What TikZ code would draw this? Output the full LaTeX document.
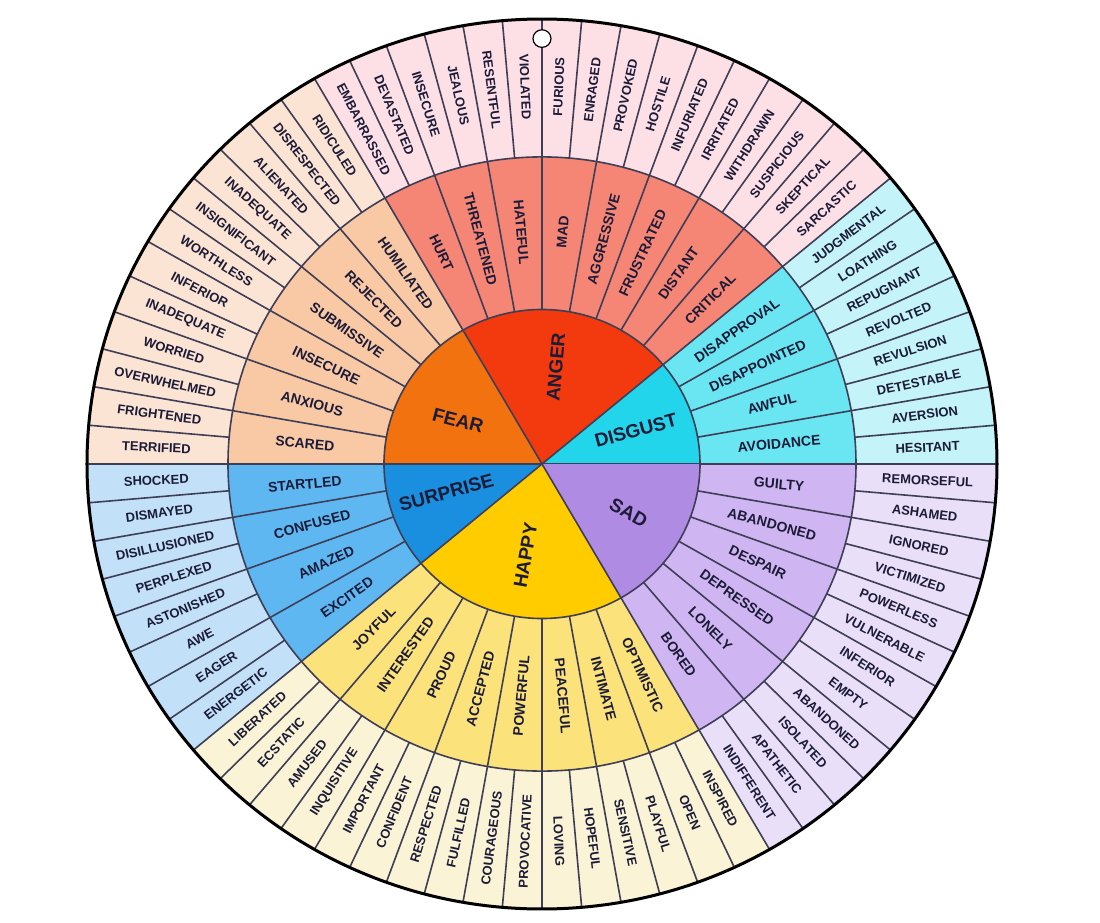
\documentclass[tikz,border=0pt]{standalone}
\usepackage{fontspec}
\setmainfont{Liberation Sans}
\definecolor{angA}{HTML}{F23A0E}\definecolor{angB}{HTML}{F58575}\definecolor{angC}{HTML}{FCE0E6}
\definecolor{disA}{HTML}{23D5EA}\definecolor{disB}{HTML}{6AE6F2}\definecolor{disC}{HTML}{C4F4F9}
\definecolor{sadA}{HTML}{B08BE3}\definecolor{sadB}{HTML}{CFB5F1}\definecolor{sadC}{HTML}{EADFF9}
\definecolor{hapA}{HTML}{FFCC00}\definecolor{hapB}{HTML}{FBE27A}\definecolor{hapC}{HTML}{FAF3D5}
\definecolor{surA}{HTML}{1A8FE0}\definecolor{surB}{HTML}{5EB7F1}\definecolor{surC}{HTML}{C2E1F8}
\definecolor{feaA}{HTML}{F2720F}\definecolor{feaB}{HTML}{F9C9A5}\definecolor{feaC}{HTML}{FCE4D4}
\definecolor{ink}{HTML}{1C1C38}
\tikzset{every picture/.style={line width=0.75pt}}
\begin{document}
\begin{tikzpicture}[x=1pt,y=1pt,
  sep/.style={draw=ink!85,line width=1.6pt},
  outer word/.style={font=\bfseries\fontsize{13}{13}\selectfont,text=ink,inner sep=0.75pt},
  mid word/.style={font=\bfseries\fontsize{14}{14}\selectfont,text=ink,inner sep=0.75pt},
  core word/.style={font=\bfseries\fontsize{19}{19}\selectfont,text=ink,inner sep=0.75pt}]
\useasboundingbox (-542,-458) rectangle (558,464);
\begin{scope}[yscale=0.978]
% sectors per family
\foreach \a/\b/\cin/\cmid/\cout in {0/40/disA/disB/disC,40/120/angA/angB/angC,120/180/feaA/feaB/feaC,
  180/220/surA/surB/surC,220/300/hapA/hapB/hapC,300/360/sadA/sadB/sadC}{
  \fill[\cout] (\a:455) arc[start angle=\a,end angle=\b,radius=455] -- (\b:314) arc[start angle=\b,end angle=\a,radius=314] -- cycle;
  \fill[\cmid] (\a:314) arc[start angle=\a,end angle=\b,radius=314] -- (\b:158) arc[start angle=\b,end angle=\a,radius=158] -- cycle;
  \fill[\cin] (0,0) -- (\a:158) arc[start angle=\a,end angle=\b,radius=158] -- cycle;
  \draw[sep] (0,0) -- (\a:158);
}
% separators
\foreach \i in {0,...,71} \draw[sep] (\i*5:314) -- (\i*5:455);
\foreach \i in {0,...,35} \draw[sep] (\i*10:158) -- (\i*10:314);
\draw[sep] (0,0) circle[radius=158];
\draw[sep] (0,0) circle[radius=314];
\draw[black,line width=3pt] (0,0) circle[radius=455];
% outer ring
\foreach \w [count=\i from 0] in {HESITANT,AVERSION,DETESTABLE,REVULSION,REVOLTED,REPUGNANT,LOATHING,JUDGMENTAL,
  SARCASTIC,SKEPTICAL,SUSPICIOUS,WITHDRAWN,IRRITATED,INFURIATED,HOSTILE,PROVOKED,ENRAGED,FURIOUS,VIOLATED,RESENTFUL,JEALOUS,INSECURE,DEVASTATED,EMBARRASSED,
  RIDICULED,DISRESPECTED,ALIENATED,INADEQUATE,INSIGNIFICANT,WORTHLESS,INFERIOR,INADEQUATE,WORRIED,OVERWHELMED,FRIGHTENED,TERRIFIED,
  SHOCKED,DISMAYED,DISILLUSIONED,PERPLEXED,ASTONISHED,AWE,EAGER,ENERGETIC,
  LIBERATED,ECSTATIC,AMUSED,INQUISITIVE,IMPORTANT,CONFIDENT,RESPECTED,FULFILLED,COURAGEOUS,PROVOCATIVE,LOVING,HOPEFUL,SENSITIVE,PLAYFUL,OPEN,INSPIRED,
  INDIFFERENT,APATHETIC,ISOLATED,ABANDONED,EMPTY,INFERIOR,VULNERABLE,POWERLESS,VICTIMIZED,IGNORED,ASHAMED,REMORSEFUL}{
  \pgfmathsetmacro\ang{\i*5+2.5}
  \pgfmathsetmacro\rot{ifthenelse(and(\ang>90,\ang<270),\ang+180,\ang)}
  \node[outer word,rotate=\rot] (out\i) at (\ang:386) {\w};
}
% middle ring
\foreach \w [count=\i from 0] in {AVOIDANCE,AWFUL,DISAPPOINTED,DISAPPROVAL,
  CRITICAL,DISTANT,FRUSTRATED,AGGRESSIVE,MAD,HATEFUL,THREATENED,HURT,
  HUMILIATED,REJECTED,SUBMISSIVE,INSECURE,ANXIOUS,SCARED,
  STARTLED,CONFUSED,AMAZED,EXCITED,
  JOYFUL,INTERESTED,PROUD,ACCEPTED,POWERFUL,PEACEFUL,INTIMATE,OPTIMISTIC,
  BORED,LONELY,DEPRESSED,DESPAIR,ABANDONED,GUILTY}{
  \pgfmathsetmacro\ang{\i*10+5}
  \pgfmathsetmacro\rot{ifthenelse(and(\ang>90,\ang<270),\ang+180,\ang)}
  \node[mid word,rotate=\rot] (mid\i) at (\ang:238) {\w};
}
% core
\node[core word,rotate=15] (disgust) at (20:100) {DISGUST};
\node[core word,rotate=85] (anger) at (82:100) {ANGER};
\node[core word,rotate=-15] (fear) at (152:95) {FEAR};
\node[core word,rotate=15] (surprise) at (197:100) {SURPRISE};
\node[core word,rotate=80] (happy) at (-100:95) {HAPPY};
\node[core word,rotate=-30] (sad) at (-30:100) {SAD};
% hanging hole
\draw[black,line width=1.2pt,fill=white] (90:435) circle[radius=9];
\end{scope}
\end{tikzpicture}
\end{document}
